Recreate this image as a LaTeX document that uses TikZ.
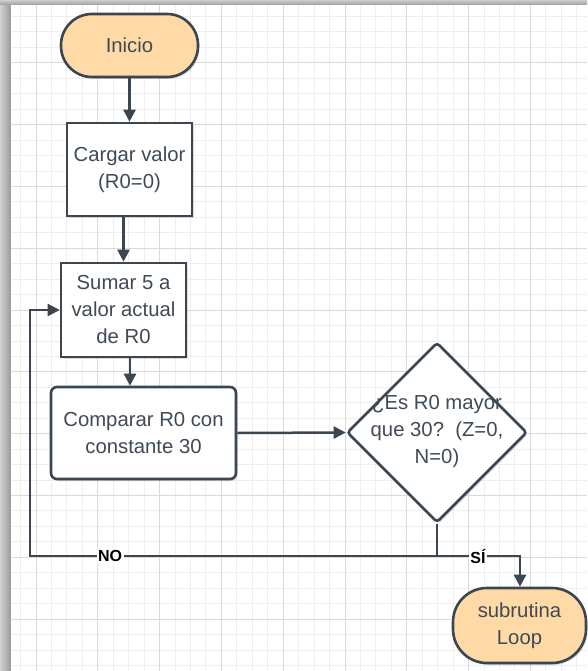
\documentclass[tikz,border=0pt]{standalone}
\usepackage{fontspec}
\setmainfont{Liberation Sans}
\usetikzlibrary{arrows.meta,shapes.geometric,shadows}
\definecolor{edge}{HTML}{3B4650}
\definecolor{txt}{HTML}{3F4A55}
\definecolor{term}{HTML}{FFDAA6}
\definecolor{gminor}{HTML}{EEEEEE}
\definecolor{gmajor}{HTML}{DADADA}
\tikzset{
  shad/.style={drop shadow={shadow xshift=1.5pt, shadow yshift=-2pt, opacity=0.13, fill=black}},
  box/.style={draw=edge, line width=2.6pt, fill=white, text=txt,
    font=\fontsize{20.3}{27}\selectfont, align=center, inner sep=0pt, shad},
  terminal/.style={box, fill=term},
  flow/.style={draw=edge, line width=2.5pt, -{Triangle[length=12pt,width=12pt]}},
  conn/.style={draw=edge, line width=2.5pt},
  lbl/.style={fill=white, font=\bfseries\fontsize{16}{18}\selectfont, text=black, inner sep=1.5pt},
  minorgrid/.style={draw=gminor, line width=1pt},
  majorgrid/.style={draw=gmajor, line width=1pt},
}
\begin{document}
\begin{tikzpicture}[x=1pt,y=-1pt]
\useasboundingbox (0,0) rectangle (587,671);
% page background and edge shadows
\fill[white] (0,0) rectangle (587,671);
\shade[left color=black!18, right color=black!40] (0,0) rectangle (11,671);
\shade[top color=black!20, bottom color=black!38] (0,0) rectangle (587,5);
\begin{scope}
  \clip (11,5) rectangle (587,671);
  \fill[white] (11,5) rectangle (587,671);
  \foreach \i in {0,...,36} \draw[minorgrid] ({20.55+15.45*\i},5) -- ({20.55+15.45*\i},671);
  \foreach \j in {1,...,43} \draw[minorgrid] (11,{1.1+15.45*\j}) -- (587,{1.1+15.45*\j});
  \foreach \i in {0,...,8} \draw[majorgrid] ({36+61.8*\i},5) -- ({36+61.8*\i},671);
  \foreach \j in {1,...,10} \draw[majorgrid] (11,{1.1+61.8*\j}) -- (587,{1.1+61.8*\j});
\end{scope}

% nodes
\node[terminal, rounded corners=31pt, minimum width=137pt, minimum height=63pt] (inicio) at (129.5,45.5) {Inicio};
\node[box, minimum width=125pt, minimum height=93pt] (cargar) at (129.5,169.5) {Cargar valor\\(R0=0)};
\node[box, minimum width=125pt, minimum height=94pt] (sumar) at (123.5,310) {Sumar 5 a\\valor actual\\de R0};
\node[box, rounded corners=6pt, minimum width=185pt, minimum height=92pt] (comparar) at (143.5,433) {Comparar R0 con\\constante 30};
\node[diamond, aspect=1, draw=edge, line width=2.6pt, fill=white, rounded corners=3pt,
      minimum width=180pt, minimum height=180pt, inner sep=0pt, shad] (dec) at (437,432.5) {};
\node[text=txt, font=\fontsize{20.3}{27}\selectfont, align=center, inner sep=0pt] (dectext) at (437,432) {¿Es R0 mayor\\que 30?~~(Z=0,\\N=0)};
\node[terminal, rounded corners=34pt, minimum width=133pt, minimum height=75pt] (sub) at (519.5,625.5) {subrutina\\Loop};

\coordinate (j) at (437,556);
\coordinate (nocorner) at (30,556);
\coordinate (sicorner) at (520,556);

% connectors
\draw[flow] (inicio.south) -- (cargar.north -| inicio.south);
\draw[flow] (cargar.south -| sumar.north) -- (sumar.north);
\draw[flow] ([xshift=6.5pt]sumar.south) -- ([xshift=6.5pt]sumar.south |- comparar.north);
\draw[flow] (comparar.east) -- (dec.west);
\draw[conn] (dec.south) -- (j);
\draw[flow] (j) -- (nocorner) -- (nocorner |- sumar.west) -- (sumar.west);
\draw[flow] (j) -- (sicorner) -- (sub.north -| sicorner);

% labels
\node[lbl] (no) at (110,556) {NO};
\node[lbl] (si) at (478,556) {SÍ};
\end{tikzpicture}
\end{document}
